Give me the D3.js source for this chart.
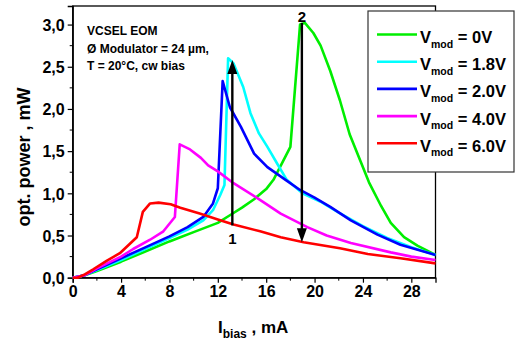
<!DOCTYPE html>
<html><head><meta charset="utf-8">
<script src="https://cdn.jsdelivr.net/npm/d3@7"></script>
<style>body{margin:0;background:#fff}svg{display:block}svg text{font-family:"Liberation Sans",Arial,sans-serif;font-weight:bold}</style>
</head><body>
<svg id="c" width="519" height="341"></svg>
<script>
const seriesNames = ["0V", "1.8V", "2.0V", "4.0V", "6.0V"];
const seriesColors = ["#00ee00", "#00ffff", "#0000ff", "#ff00ff", "#ff0000"];

const i0V  = [0, 1, 2, 4, 6, 8, 8.9, 10, 12, 13, 14, 15, 16, 16.6, 18.0, 18.8, 19.2, 19.9, 20.5, 21.3, 22.1, 22.9, 23.8, 24.5, 25.5, 26.3, 27.4, 28.5, 30];
const p0V  = [0, 0.03, 0.08, 0.19, 0.31, 0.43, 0.48, 0.54, 0.65, 0.74, 0.83, 0.93, 1.05, 1.16, 1.55, 3.0, 3.02, 2.9, 2.75, 2.45, 2.1, 1.7, 1.38, 1.13, 0.85, 0.65, 0.48, 0.38, 0.27];

const i18V = [0, 1, 2, 4, 6, 8, 9.5, 10.8, 11.6, 12.2, 12.55, 12.85, 13.3, 14.1, 14.7, 15.4, 16.1, 17.0, 17.7, 19, 20.5, 22, 24, 26, 28, 30];
const p18V = [0, 0.03, 0.09, 0.21, 0.34, 0.47, 0.57, 0.68, 0.8, 0.98, 1.1, 2.6, 2.54, 2.26, 1.95, 1.71, 1.55, 1.33, 1.16, 1.0, 0.9, 0.77, 0.61, 0.47, 0.36, 0.27];

const i20V = [0, 1, 2, 4, 6, 8, 9.5, 10.8, 11.6, 12.0, 12.4, 13.0, 13.9, 15.0, 16.1, 17.6, 18.8, 20, 21.3, 23.0, 25.2, 27.1, 30];
const p20V = [0, 0.03, 0.1, 0.23, 0.36, 0.49, 0.6, 0.72, 0.88, 1.06, 2.33, 2.02, 1.79, 1.47, 1.31, 1.16, 1.04, 0.95, 0.84, 0.68, 0.51, 0.39, 0.27];

const i40V = [0, 1, 2, 4, 5, 6.4, 7.5, 8.45, 8.85, 9.7, 10.6, 11.2, 12.0, 13.3, 15.3, 17.2, 19.4, 21, 23, 26.3, 28, 30];
const p40V = [0, 0.03, 0.11, 0.25, 0.34, 0.45, 0.55, 0.72, 1.58, 1.52, 1.42, 1.33, 1.26, 1.12, 0.94, 0.76, 0.6, 0.5, 0.41, 0.3, 0.25, 0.21];

const i60V = [0, 0.4, 1.0, 1.7, 2.8, 3.9, 5.3, 5.8, 6.4, 7.1, 8.1, 8.9, 10.5, 12, 13.3, 15.5, 17.2, 19.1, 22.1, 24.4, 27.1, 30];
const p60V = [0, 0, 0.04, 0.1, 0.2, 0.29, 0.48, 0.78, 0.88, 0.89, 0.87, 0.83, 0.76, 0.69, 0.63, 0.55, 0.48, 0.42, 0.35, 0.28, 0.23, 0.17];

const xTicks = [0, 4, 8, 12, 16, 20, 24, 28];
const xTickLabels = ["0", "4", "8", "12", "16", "20", "24", "28"];
const yTicks = [0, 0.5, 1.0, 1.5, 2.0, 2.5, 3.0];
const yTickLabels = ["0,0", "0,5", "1,0", "1,5", "2,0", "2,5", "3,0"];

const arrowI = [13.2, 18.95];
const arrowFrom = [0.62, 3.02];
const arrowTo = [2.58, 0.42];
const arrowLabels = ["1", "2"];

const infoLines = ["VCSEL EOM", "Ø Modulator = 24 µm,", "T = 20°C, cw bias"];

const seriesI = [i0V, i18V, i20V, i40V, i60V];
const seriesP = [p0V, p18V, p20V, p40V, p60V];

const FONT = "'Liberation Sans', Arial, sans-serif";
const svg = d3.select("#c");
const L = 72.7, R = 435.5, T = 6, B = 277.7;
const x = d3.scaleLinear().domain([0, 30]).range([L, R]);
const y = d3.scaleLinear().domain([0, 3.22]).range([B, T]);

// frame
svg.append("rect").attr("x", L).attr("y", T).attr("width", R - L).attr("height", B - T)
  .attr("fill", "none").attr("stroke", "#000").attr("stroke-width", 1.3);

// axes
const xAxis = d3.axisBottom(x).tickValues(xTicks).tickFormat((d, i) => xTickLabels[i]).tickSize(5).tickPadding(3);
const gx = svg.append("g").attr("transform", `translate(0,${B})`).call(xAxis);
const xMinor = d3.range(2, 30, 4);
gx.selectAll(".minor").data(xMinor).enter().append("line").attr("class", "minor")
  .attr("x1", d => x(d)).attr("x2", d => x(d)).attr("y1", 0).attr("y2", 3).attr("stroke", "#000");
const yAxis = d3.axisLeft(y).tickValues(yTicks).tickFormat((d, i) => yTickLabels[i]).tickSize(5).tickPadding(3);
const gy = svg.append("g").attr("transform", `translate(${L},0)`).call(yAxis);
const yMinor = [0.25, 0.75, 1.25, 1.75, 2.25, 2.75];
gy.selectAll(".minor").data(yMinor).enter().append("line").attr("class", "minor")
  .attr("y1", d => y(d)).attr("y2", d => y(d)).attr("x1", 0).attr("x2", -3).attr("stroke", "#000");
[gx, gy].forEach(g => {
  g.attr("font-family", FONT);
  g.select(".domain").attr("stroke", "#000").attr("stroke-width", 1.3);
  g.selectAll(".tick line").attr("stroke", "#000").attr("stroke-width", 1.2);
  g.selectAll("text").attr("fill", "#000").style("font-size", "16px").style("font-weight", "bold")
    .style("font-family", FONT);
});
gx.selectAll(".tick text").attr("dy", "0.71em");
gy.selectAll(".tick text").attr("dy", "0.36em");

// series lines
const line = d3.line().x(d => x(d[0])).y(d => y(d[1]));
seriesNames.forEach((n, k) => {
  const pts = seriesI[k].map((v, j) => [v, seriesP[k][j]]);
  svg.append("path").datum(pts).attr("d", line).attr("fill", "none")
    .attr("stroke", seriesColors[k]).attr("stroke-width", 2.6).attr("stroke-linejoin", "round");
});

// arrows
arrowI.forEach((ai, k) => {
  const xa = x(ai), y0 = y(arrowFrom[k]), y1 = y(arrowTo[k]);
  const dir = y1 < y0 ? 1 : -1;
  const hl = 14, hw = 5;
  svg.append("line").attr("x1", xa).attr("x2", xa).attr("y1", y0).attr("y2", y1 + dir * hl * 0.6)
    .attr("stroke", "#000").attr("stroke-width", 2.4);
  svg.append("path").attr("d", `M${xa},${y1} L${xa - hw},${y1 + dir * hl} L${xa + hw},${y1 + dir * hl} Z`).attr("fill", "#000");
});
svg.append("text").attr("x", x(arrowI[0])).attr("y", y(arrowFrom[0]) + 19).attr("text-anchor", "middle")
  .style("font-family", FONT).style("font-size", "15px").text(arrowLabels[0]);
svg.append("text").attr("x", x(arrowI[1])).attr("y", y(arrowFrom[1]) - 0.5).attr("text-anchor", "middle")
  .style("font-family", FONT).style("font-size", "15px").text(arrowLabels[1]);

// info text
infoLines.forEach((t, k) => {
  svg.append("text").attr("x", 87).attr("y", 35 + k * 17.5).style("font-family", FONT).style("font-size", "12px").text(t);
});

// axis titles
svg.append("text").attr("transform", "translate(30,157) rotate(-90)").attr("text-anchor", "middle")
  .style("font-family", FONT).style("font-size", "18px").text("opt. power , mW");
const xt = svg.append("text").attr("x", 218).attr("y", 333).style("font-family", FONT).style("font-size", "17px");
xt.append("tspan").text("I");
xt.append("tspan").attr("dy", 5).style("font-size", "12px").text("bias");
xt.append("tspan").attr("dy", -5).text(" , mA");

// legend
svg.append("rect").attr("x", 368).attr("y", 11).attr("width", 146).attr("height", 161)
  .attr("fill", "#fff").attr("stroke", "#333").attr("stroke-width", 1.2);
seriesNames.forEach((n, k) => {
  const ly = 34.5 + k * 27.2;
  svg.append("line").attr("x1", 377).attr("x2", 417).attr("y1", ly).attr("y2", ly)
    .attr("stroke", seriesColors[k]).attr("stroke-width", 2.6);
  const t = svg.append("text").attr("x", 420).attr("y", ly + 8.5).style("font-family", FONT).style("font-size", "16.5px");
  t.append("tspan").text("V");
  t.append("tspan").attr("dy", 4.5).style("font-size", "10.5px").text("mod");
  t.append("tspan").attr("dy", -4.5).text(" = " + n);
});
</script>
</body></html>
